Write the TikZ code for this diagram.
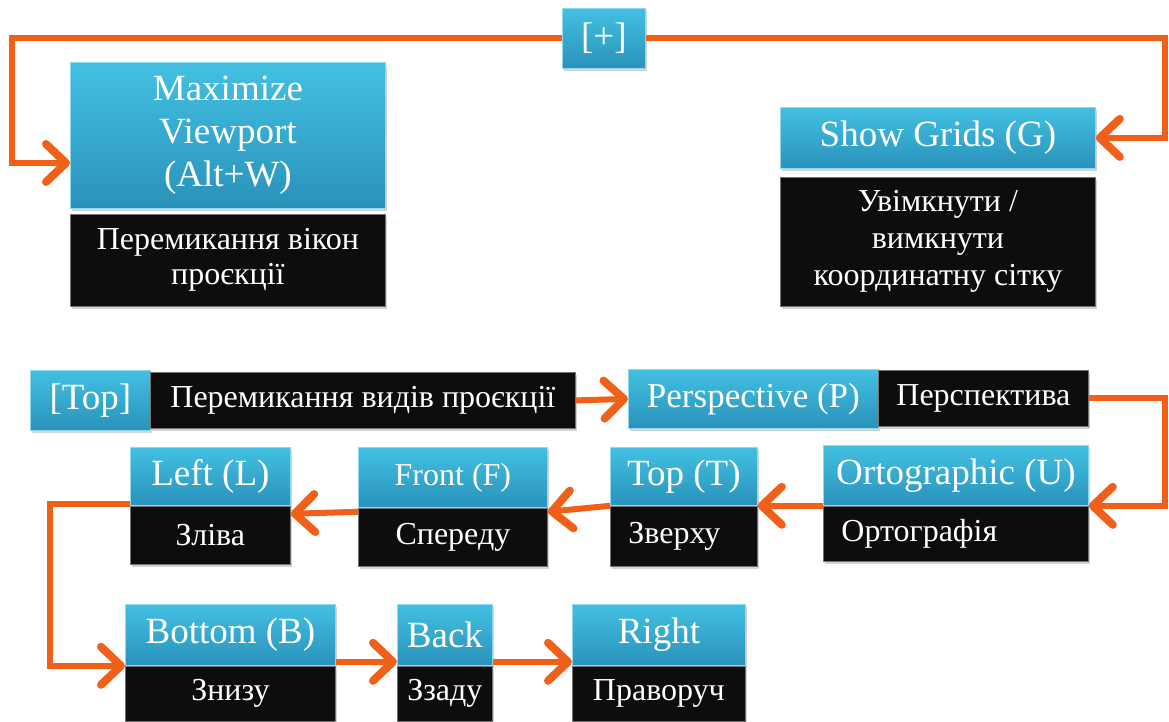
\documentclass[tikz,border=0pt]{standalone}
\usepackage{fontspec}
\setmainfont{Liberation Serif}
\usetikzlibrary{arrows.meta,shadows}

\definecolor{keytop}{RGB}{66,192,226}
\definecolor{keybot}{RGB}{42,146,186}
\definecolor{flow}{RGB}{240,96,24}

\tikzset{
  keybox/.style={anchor=north west, draw=keytop!60!white, line width=0.8pt,
    top color=keytop, bottom color=keybot, text=white, align=center, inner sep=2pt,
    font=\fontsize{37}{43}\selectfont,
    drop shadow={shadow xshift=2pt, shadow yshift=-3pt, opacity=.35}},
  notebox/.style={anchor=north west, draw=black!55, line width=0.8pt,
    fill=black!95, text=white,
    align=center, inner sep=2pt, font=\fontsize{32}{37}\selectfont,
    drop shadow={shadow xshift=2pt, shadow yshift=-3pt, opacity=.35}},
  flowline/.style={draw=flow, line width=6pt},
  flowarrow/.style={flowline, -{Straight Barb[length=20pt, width=38pt, line width=8pt, round]}}
}

\begin{document}
\begin{tikzpicture}[x=1pt,y=-1pt]
\useasboundingbox (0,0) rectangle (1169,722);

% upper part
\node[keybox, minimum width=83, minimum height=60] (plus) at (562,8) {[+]};
\node[keybox, minimum width=315, minimum height=146] (maxview) at (70,62) {Maximize\\Viewport\\(Alt+W)};
\node[notebox, minimum width=315, minimum height=92, font=\fontsize{32}{35}\selectfont] (maxviewd) at ([yshift=-5]maxview.south west) {Перемикання вікон\\проєкції};
\node[keybox, minimum width=315, minimum height=61] (grids) at (780,107) {Show Grids (G)};
\node[notebox, minimum width=315, minimum height=129] (gridsd) at ([yshift=-8]grids.south west) {Увімкнути /\\вимкнути\\координатну сітку};

\coordinate (lx) at (12,0);
\coordinate (rx) at (1165,0);
\draw[flowarrow] (plus.west) -| (lx |- 0,163) -- (maxview.west |- 0,163);
\draw[flowarrow] (plus.east) -| (rx |- grids.east) -- (grids.east);

% views
\node[keybox, minimum width=120, minimum height=60] (topview) at (30,370) {[Top]};
\node[notebox, minimum width=425, minimum height=56] (topviewd) at (150,372) {Перемикання видів проєкції};
\node[keybox, minimum width=250, minimum height=59, font=\fontsize{35}{41}\selectfont] (persp) at (628,369) {Perspective (P)};
\node[notebox, minimum width=210, minimum height=56] (perspd) at (878,370) {Перспектива};

\node[keybox, minimum width=265, minimum height=60] (ortho) at (823,445) {Ortographic (U)};
\node[notebox, minimum width=265, minimum height=55, text width=229, inner xsep=18, align=left] (orthod) at (ortho.south west) {Ортографія};
\node[keybox, minimum width=147, minimum height=58] (topt) at (610,447) {Top (T)};
\node[notebox, minimum width=147, minimum height=60, text width=111, inner xsep=18, align=left] (toptd) at (topt.south west) {Зверху};
\node[keybox, minimum width=189, minimum height=60, font=\fontsize{32}{38}\selectfont] (front) at (358,447) {Front (F)};
\node[notebox, minimum width=189, minimum height=58] (frontd) at (front.south west) {Спереду};
\node[keybox, minimum width=160, minimum height=58] (leftv) at (130,447) {Left (L)};
\node[notebox, minimum width=160, minimum height=58] (leftvd) at (leftv.south west) {Зліва};

\node[keybox, minimum width=210, minimum height=61] (bottom) at (125,604) {Bottom (B)};
\node[notebox, minimum width=210, minimum height=55] (bottomd) at (bottom.south west) {Знизу};
\node[keybox, minimum width=95, minimum height=61] (back) at (397,604) {Back};
\node[notebox, minimum width=95, minimum height=55] (backd) at (back.south west) {Ззаду};
\node[keybox, minimum width=173, minimum height=61] (rightv) at (572,604) {Right};
\node[notebox, minimum width=173, minimum height=55] (rightvd) at (rightv.south west) {Праворуч};

\coordinate (dx) at (50,0);
\draw[flowarrow] (topviewd.east) -- (persp.west);
\draw[flowarrow] (perspd.east) -- (perspd.east -| rx) |- (ortho.south east);
\draw[flowarrow] (ortho.south west) -- (topt.south east);
\draw[flowarrow] (topt.south west) -- ([yshift=-4]front.south east);
\draw[flowarrow] ([yshift=-4]front.south west) -- ([yshift=-8]leftv.south east);
\draw[flowarrow] ([yshift=2]leftv.south west) -| (dx |- bottom.south west) -- (bottom.south west);
\draw[flowarrow] ([yshift=4]bottom.south east) -- ([yshift=4]back.south west);
\draw[flowarrow] ([yshift=4]back.south east) -- ([yshift=4]rightv.south west);

\end{tikzpicture}
\end{document}
